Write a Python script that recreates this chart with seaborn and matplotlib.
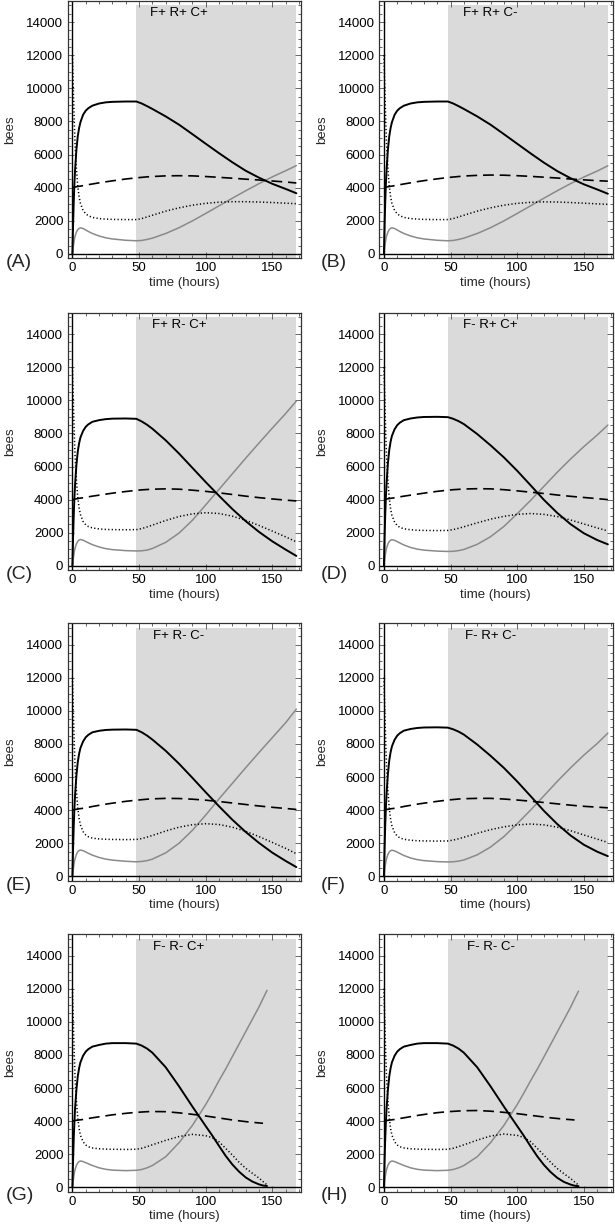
import numpy as np
import pandas as pd
import matplotlib
matplotlib.use("Agg")
import matplotlib.pyplot as plt
import seaborn as sns
from matplotlib.ticker import MultipleLocator

sns.set_theme(style="white")
plt.rcParams['font.family'] = ['Liberation Sans', 'DejaVu Sans']

# ---------------- data ----------------
T = [0, 0.5, 1, 1.5, 2, 3, 4, 5, 6, 8, 10, 12, 15, 20, 25, 30, 40, 48, 52, 56, 60,
     70, 80, 90, 100, 110, 120, 130, 140, 150, 160, 168]
TG = [0, 0.5, 1, 1.5, 2, 3, 4, 5, 6, 8, 10, 12, 15, 20, 25, 30, 40, 48, 52, 56, 60,
      70, 80, 90, 100, 105, 110, 115, 120, 125, 130, 135, 140, 143, 146]

panel_letters = ["(A)", "(B)", "(C)", "(D)", "(E)", "(F)", "(G)", "(H)"]
panel_titles = ["F+ R+ C+", "F+ R+ C-", "F+ R- C+", "F- R+ C+",
                "F+ R- C-", "F- R+ C-", "F- R- C+", "F- R- C-"]

# black solid
black_A = [0, 1800, 3200, 4300, 5100, 6300, 7100, 7600, 7950, 8400, 8650, 8800, 8950, 9080, 9150, 9180, 9200, 9200, 9080, 8920, 8750,
           8300, 7800, 7230, 6650, 6080, 5530, 5020, 4600, 4230, 3920, 3660]
black_B = [0, 1800, 3200, 4300, 5100, 6300, 7100, 7600, 7950, 8400, 8650, 8800, 8950, 9080, 9150, 9180, 9200, 9200, 9080, 8920, 8750,
           8300, 7800, 7230, 6650, 6070, 5510, 5000, 4570, 4200, 3890, 3630]
black_C = [0, 1750, 3100, 4150, 4950, 6100, 6900, 7400, 7750, 8150, 8400, 8550, 8700, 8800, 8860, 8890, 8900, 8880, 8720, 8520, 8280,
           7580, 6780, 5920, 5060, 4230, 3430, 2700, 2050, 1480, 980, 600]
black_D = [0, 1780, 3150, 4220, 5020, 6200, 7000, 7500, 7850, 8250, 8500, 8650, 8800, 8900, 8960, 8990, 9000, 8980, 8880, 8740, 8560,
           7960, 7280, 6550, 5740, 4870, 3990, 3200, 2520, 1970, 1560, 1300]
black_E = [0, 1750, 3100, 4150, 4950, 6100, 6900, 7400, 7750, 8150, 8400, 8550, 8700, 8790, 8840, 8860, 8870, 8850, 8700, 8500, 8260,
           7580, 6800, 5950, 5080, 4230, 3420, 2680, 2020, 1430, 930, 560]
black_F = [0, 1780, 3150, 4220, 5020, 6200, 7000, 7500, 7850, 8250, 8500, 8650, 8800, 8900, 8960, 8990, 9000, 8980, 8880, 8740, 8560,
           7960, 7280, 6550, 5730, 4850, 3960, 3160, 2470, 1910, 1490, 1220]
black_G = [0, 1700, 3000, 4000, 4800, 5900, 6700, 7200, 7550, 7950, 8200, 8350, 8500, 8600, 8680, 8710, 8710, 8680, 8560, 8380, 8130,
           7250, 6100, 4880, 3700, 3120, 2500, 1900, 1380, 950, 600, 350, 180, 110, 80]
black_H = [0, 1700, 3000, 4000, 4800, 5900, 6700, 7200, 7550, 7950, 8200, 8350, 8500, 8600, 8680, 8710, 8710, 8680, 8560, 8380, 8130,
           7250, 6100, 4880, 3700, 3110, 2480, 1880, 1360, 930, 580, 330, 170, 100, 70]

# grey solid
grey_A = [0, 350, 650, 900, 1080, 1320, 1460, 1540, 1570, 1530, 1440, 1350, 1230, 1080, 970, 900, 820, 790, 810, 870, 950,
          1230, 1580, 1990, 2440, 2900, 3360, 3810, 4240, 4650, 5020, 5330]
grey_B = [0, 350, 650, 900, 1080, 1320, 1460, 1540, 1570, 1530, 1440, 1350, 1230, 1080, 970, 900, 820, 790, 810, 870, 950,
          1230, 1580, 1990, 2440, 2900, 3360, 3810, 4240, 4640, 5000, 5320]
grey_C = [0, 350, 650, 900, 1080, 1330, 1480, 1560, 1590, 1550, 1470, 1390, 1280, 1140, 1040, 980, 920, 900, 910, 950, 1050,
          1420, 1980, 2750, 3680, 4620, 5560, 6500, 7420, 8320, 9200, 9950]
grey_D = [0, 350, 650, 900, 1080, 1330, 1470, 1550, 1580, 1540, 1460, 1380, 1260, 1110, 1010, 950, 890, 870, 880, 920, 990,
          1300, 1760, 2380, 3150, 3950, 4800, 5650, 6450, 7200, 7900, 8500]
grey_E = [0, 350, 650, 900, 1080, 1330, 1480, 1560, 1590, 1550, 1470, 1390, 1280, 1140, 1040, 980, 910, 880, 900, 950, 1040,
          1420, 2000, 2780, 3700, 4680, 5620, 6560, 7480, 8380, 9280, 10100]
grey_F = [0, 350, 650, 900, 1080, 1330, 1470, 1550, 1580, 1540, 1460, 1380, 1260, 1110, 1010, 950, 890, 870, 880, 920, 990,
          1300, 1770, 2400, 3180, 4000, 4860, 5730, 6550, 7320, 8020, 8650]
grey_G = [0, 350, 650, 900, 1080, 1330, 1480, 1560, 1590, 1560, 1490, 1420, 1320, 1180, 1090, 1040, 1010, 1030, 1080, 1180, 1320,
          1850, 2700, 3740, 5000, 5700, 6450, 7150, 7900, 8650, 9400, 10150, 10900, 11400, 11900]
grey_H = [0, 350, 650, 900, 1080, 1330, 1480, 1560, 1590, 1560, 1490, 1420, 1320, 1180, 1090, 1040, 1010, 1030, 1080, 1180, 1320,
          1850, 2700, 3740, 5000, 5700, 6430, 7130, 7870, 8620, 9370, 10120, 10870, 11370, 11850]

# dotted
dot_A = [12000, 10500, 9000, 7700, 6600, 5100, 4100, 3450, 3050, 2620, 2420, 2300, 2200, 2130, 2100, 2080, 2070, 2070, 2130, 2230, 2330,
         2580, 2780, 2940, 3050, 3120, 3150, 3150, 3130, 3100, 3060, 3030]
dot_B = [12000, 10500, 9000, 7700, 6600, 5100, 4100, 3450, 3050, 2620, 2420, 2300, 2200, 2130, 2100, 2080, 2070, 2070, 2130, 2230, 2330,
         2580, 2780, 2940, 3050, 3110, 3140, 3130, 3100, 3060, 3020, 2990]
dot_C = [12000, 10500, 9000, 7700, 6600, 5150, 4150, 3500, 3100, 2680, 2480, 2370, 2290, 2230, 2200, 2190, 2180, 2190, 2250, 2350, 2460,
         2740, 2980, 3140, 3210, 3160, 3000, 2750, 2440, 2100, 1750, 1450]
dot_D = [12000, 10500, 9000, 7700, 6600, 5100, 4100, 3450, 3050, 2640, 2430, 2320, 2240, 2180, 2150, 2140, 2130, 2140, 2190, 2270, 2360,
         2600, 2820, 2990, 3110, 3160, 3110, 2980, 2770, 2530, 2290, 2110]
dot_E = [12000, 10500, 9000, 7700, 6600, 5150, 4150, 3500, 3100, 2700, 2500, 2390, 2310, 2260, 2240, 2230, 2220, 2230, 2280, 2370, 2470,
         2740, 2970, 3120, 3180, 3130, 2970, 2720, 2400, 2050, 1690, 1370]
dot_F = [12000, 10500, 9000, 7700, 6600, 5100, 4100, 3450, 3050, 2640, 2430, 2320, 2240, 2180, 2150, 2140, 2130, 2140, 2190, 2270, 2360,
         2600, 2820, 2990, 3110, 3160, 3110, 2970, 2760, 2500, 2250, 2050]
dot_G = [12000, 10500, 9000, 7700, 6600, 5200, 4200, 3550, 3150, 2750, 2560, 2450, 2380, 2330, 2310, 2300, 2290, 2300, 2360, 2460, 2570,
         2840, 3070, 3200, 3120, 3000, 2750, 2350, 1950, 1520, 1150, 850, 560, 350, 150]
dot_H = [12000, 10500, 9000, 7700, 6600, 5200, 4200, 3550, 3150, 2750, 2560, 2450, 2380, 2330, 2310, 2300, 2290, 2300, 2360, 2460, 2570,
         2850, 3100, 3220, 3140, 3010, 2760, 2360, 1950, 1520, 1140, 830, 540, 330, 140]

# dashed
dash_A = [4000, 4010, 4020, 4030, 4040, 4050, 4070, 4080, 4090, 4120, 4150, 4180, 4220, 4290, 4350, 4410, 4520, 4590, 4620, 4650, 4670,
          4710, 4720, 4710, 4670, 4620, 4570, 4510, 4460, 4400, 4340, 4280]
dash_B = [4000, 4010, 4020, 4030, 4040, 4050, 4070, 4080, 4090, 4120, 4150, 4180, 4220, 4290, 4360, 4420, 4530, 4610, 4640, 4670, 4700,
          4740, 4760, 4750, 4720, 4680, 4630, 4580, 4520, 4470, 4420, 4390]
dash_C = [4000, 4010, 4020, 4030, 4040, 4050, 4060, 4080, 4090, 4110, 4140, 4170, 4210, 4270, 4330, 4390, 4490, 4560, 4590, 4610, 4630,
          4650, 4630, 4570, 4500, 4410, 4310, 4210, 4120, 4040, 3970, 3920]
dash_D = [4000, 4010, 4020, 4030, 4040, 4050, 4060, 4080, 4090, 4110, 4140, 4170, 4210, 4270, 4330, 4390, 4500, 4570, 4600, 4620, 4640,
          4660, 4650, 4600, 4530, 4450, 4370, 4280, 4200, 4130, 4060, 4000]
dash_E = [4000, 4010, 4020, 4030, 4040, 4050, 4060, 4080, 4090, 4110, 4140, 4170, 4220, 4290, 4360, 4420, 4530, 4600, 4630, 4660, 4680,
          4710, 4700, 4660, 4600, 4520, 4430, 4340, 4250, 4170, 4100, 4040]
dash_F = [4000, 4010, 4020, 4030, 4040, 4050, 4060, 4080, 4090, 4110, 4140, 4170, 4220, 4290, 4360, 4420, 4530, 4610, 4640, 4670, 4690,
          4710, 4710, 4670, 4610, 4540, 4460, 4380, 4300, 4230, 4180, 4140]
dash_G = [4000, 4010, 4020, 4030, 4040, 4050, 4060, 4070, 4080, 4100, 4130, 4160, 4200, 4260, 4320, 4380, 4470, 4530, 4550, 4570, 4580,
          4570, 4500, 4410, 4310, 4250, 4190, 4130, 4070, 4020, 3970, 3930, 3890, 3870, np.nan]
dash_H = [4000, 4010, 4020, 4030, 4040, 4050, 4060, 4070, 4080, 4100, 4130, 4160, 4200, 4270, 4340, 4400, 4510, 4570, 4590, 4610, 4630,
          4640, 4600, 4530, 4450, 4400, 4350, 4300, 4250, 4200, 4160, 4120, 4090, 4070, np.nan]

black_all = [black_A, black_B, black_C, black_D, black_E, black_F, black_G, black_H]
grey_all = [grey_A, grey_B, grey_C, grey_D, grey_E, grey_F, grey_G, grey_H]
dot_all = [dot_A, dot_B, dot_C, dot_D, dot_E, dot_F, dot_G, dot_H]
dash_all = [dash_A, dash_B, dash_C, dash_D, dash_E, dash_F, dash_G, dash_H]
times_all = [T, T, T, T, T, T, TG, TG]

# ---------------- layout ----------------
W, H = 615, 1226
fig = plt.figure(figsize=(W / 100, H / 100), dpi=100)

col_left = [67.5, 379.0]
ax_w = 233.5
row_top = [0.5, 312.5, 623.0, 934.0]
ax_h = 257.5

FS = 9.5
for i in range(8):
    r, c = divmod(i, 2)
    rect = [col_left[c] / W, 1 - (row_top[r] + ax_h) / H, ax_w / W, ax_h / H]
    ax = fig.add_axes(rect)
    ax.set_xlim(-3.7, 171.5)
    ax.set_ylim(-250, 15300)
    ax.set_facecolor("white")

    # shaded period
    ax.fill_between([48, 168], -250, 15000, color="#dadada", lw=0, zorder=0)
    # axes through origin
    ax.axhline(0, color="black", lw=1.0, zorder=1)
    ax.axvline(0, color="black", lw=1.0, zorder=1)

    t = times_all[i]
    df = pd.DataFrame({"t": t, "black": black_all[i], "grey": grey_all[i],
                       "dot": dot_all[i], "dash": dash_all[i]})

    sns.lineplot(data=df, x="t", y="grey", ax=ax, color="#8a8a8a", lw=1.1,
                 sort=False, estimator=None, zorder=3)
    sns.lineplot(data=df, x="t", y="dash", ax=ax, color="black", lw=1.2,
                 sort=False, estimator=None, zorder=3)
    ax.lines[-1].set_dashes([6.5, 3.5])
    sns.lineplot(data=df, x="t", y="dot", ax=ax, color="black", lw=1.1,
                 sort=False, estimator=None, zorder=3)
    ax.lines[-1].set_dashes([0.8, 1.5])
    sns.lineplot(data=df, x="t", y="black", ax=ax, color="black", lw=1.4,
                 sort=False, estimator=None, zorder=4)

    # ticks
    ax.xaxis.set_major_locator(MultipleLocator(50))
    ax.xaxis.set_minor_locator(MultipleLocator(10))
    ax.yaxis.set_major_locator(MultipleLocator(2000))
    ax.yaxis.set_minor_locator(MultipleLocator(500))
    ax.tick_params(which="both", direction="in", top=True, right=True,
                   bottom=True, left=True, color="#666666", width=0.7)
    ax.tick_params(which="major", length=4, labelsize=FS, pad=3,
                   labelcolor="black")
    ax.tick_params(which="minor", length=2)
    ax.set_yticks(range(0, 14001, 2000))
    ax.set_yticklabels([str(v) for v in range(0, 14001, 2000)])

    for sp in ax.spines.values():
        sp.set_color("#333333")
        sp.set_linewidth(0.9)

    ax.set_xlabel("time (hours)", fontsize=FS, labelpad=2)
    ax.set_ylabel("bees", fontsize=FS, labelpad=7)

    ax.text(80, 14520, panel_titles[i], ha="center", va="center",
            fontsize=FS, color="black", zorder=5)

    # panel letter
    lx = (6 if c == 0 else 321) / W
    ly = 1 - (row_top[r] + 262) / H
    fig.text(lx, ly, panel_letters[i], ha="left", va="center", fontsize=14)

fig.savefig("out.png", dpi=100)
